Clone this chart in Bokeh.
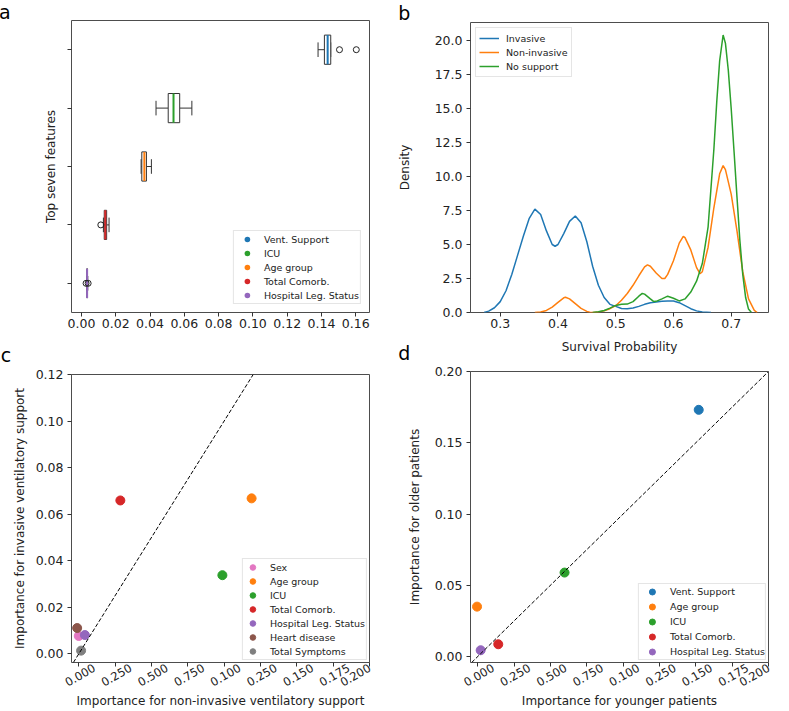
import numpy as np
from math import pi
from bokeh.plotting import figure
from bokeh.layouts import row, column
from bokeh.models import (FactorRange, Range1d, FixedTicker, PrintfTickFormatter, LinearAxis,
                          Legend, LegendItem, Slope, Label, ColumnDataSource)
from bokeh.transform import dodge
from bokeh.embed import file_html
from bokeh.resources import INLINE

FONT = "DejaVu Sans"
BLUE, ORANGE, GREEN, RED = "#1f77b4", "#ff7f0e", "#2ca02c", "#d62728"
PURPLE, BROWN, PINK, GRAY = "#9467bd", "#8c564b", "#e377c2", "#7f7f7f"

# ---------------- Panel a data (box plots) ----------------
a_features = ["Hospital Leg. Status", "Total Comorb.", "Age group", "ICU", "Vent. Support"]
a_colors = [PURPLE, RED, ORANGE, GREEN, BLUE]
a_q1 = [0.0031, 0.0133, 0.0352, 0.0506, 0.1417]
a_median = [0.0033, 0.0139, 0.0367, 0.0537, 0.1436]
a_q3 = [0.0035, 0.0147, 0.0379, 0.0573, 0.1454]
a_whisker_lo = [0.0030, 0.0128, 0.0348, 0.0435, 0.1380]
a_whisker_hi = [0.0037, 0.0161, 0.0408, 0.0644, 0.1454]
a_outlier_feature = ["Hospital Leg. Status", "Hospital Leg. Status", "Total Comorb.",
                     "Vent. Support", "Vent. Support"]
a_outlier_value = [0.0027, 0.0039, 0.0113, 0.1505, 0.1603]
a_legend_names = ["Vent. Support", "ICU", "Age group", "Total Comorb.", "Hospital Leg. Status"]
a_xticks = [0.0, 0.02, 0.04, 0.06, 0.08, 0.10, 0.12, 0.14, 0.16]

# ---------------- Panel b data (density curves) ----------------
b_invasive_x = [0.272, 0.28, 0.29, 0.30, 0.31, 0.32, 0.33, 0.34, 0.35, 0.36, 0.37, 0.38, 0.39,
                0.395, 0.40, 0.41, 0.42, 0.43, 0.44, 0.45, 0.46, 0.47, 0.48, 0.49, 0.50, 0.51,
                0.52, 0.53, 0.54, 0.55, 0.56, 0.57, 0.58, 0.59, 0.60, 0.61, 0.62, 0.63, 0.64,
                0.65, 0.665]
b_invasive_y = [0.0, 0.1, 0.35, 0.8, 1.6, 2.8, 4.2, 5.6, 6.9, 7.6, 7.2, 6.0, 5.0,
                4.87, 5.0, 5.8, 6.7, 7.1, 6.6, 5.2, 3.4, 2.0, 1.1, 0.6, 0.45, 0.3,
                0.27, 0.33, 0.45, 0.6, 0.72, 0.78, 0.82, 0.84, 0.84, 0.72, 0.5, 0.28, 0.12,
                0.04, 0.0]
b_noninv_x = [0.36, 0.37, 0.38, 0.39, 0.40, 0.41, 0.413, 0.42, 0.43, 0.44, 0.45, 0.455, 0.46,
              0.47, 0.48, 0.49, 0.50, 0.51, 0.52, 0.53, 0.54, 0.55, 0.555, 0.56, 0.57, 0.58,
              0.585, 0.59, 0.60, 0.61, 0.617, 0.62, 0.63, 0.64, 0.646, 0.65, 0.66, 0.67, 0.68,
              0.686, 0.69, 0.70, 0.71, 0.72, 0.73, 0.74, 0.745]
b_noninv_y = [0.0, 0.03, 0.15, 0.4, 0.75, 1.08, 1.12, 1.0, 0.65, 0.3, 0.08, 0.02, 0.0,
              0.03, 0.12, 0.28, 0.5, 0.9, 1.4, 2.0, 2.7, 3.35, 3.5, 3.4, 2.9, 2.5,
              2.5, 2.8, 3.8, 5.1, 5.6, 5.5, 4.6, 3.3, 2.85, 3.0, 4.8, 7.7, 10.2,
              10.8, 10.5, 8.7, 6.0, 3.0, 1.0, 0.15, 0.0]
b_nosupp_x = [0.46, 0.47, 0.48, 0.49, 0.50, 0.51, 0.52, 0.53, 0.54, 0.546, 0.55, 0.56, 0.566,
              0.57, 0.58, 0.59, 0.60, 0.61, 0.62, 0.63, 0.64, 0.65, 0.66, 0.67, 0.675, 0.68,
              0.686, 0.69, 0.695, 0.70, 0.705, 0.71, 0.715, 0.72, 0.725, 0.73, 0.735]
b_nosupp_y = [0.0, 0.05, 0.15, 0.32, 0.52, 0.6, 0.62, 0.8, 1.2, 1.4, 1.35, 1.0, 0.8,
              0.82, 1.0, 1.2, 1.05, 0.85, 1.0, 1.5, 2.3, 3.6, 6.3, 12.0, 15.5, 18.5,
              20.4, 19.8, 17.8, 15.0, 11.8, 8.5, 5.3, 2.8, 1.1, 0.25, 0.0]
b_xticks = [0.3, 0.4, 0.5, 0.6, 0.7]
b_yticks = [0.0, 2.5, 5.0, 7.5, 10.0, 12.5, 15.0, 17.5, 20.0]

# ---------------- Panel c data ----------------
c_names = ["Sex", "Age group", "ICU", "Total Comorb.", "Hospital Leg. Status",
           "Heart disease", "Total Symptoms"]
c_colors = [PINK, ORANGE, GREEN, RED, PURPLE, BROWN, GRAY]
c_noninvasive = [0.0000, 0.1189, 0.0988, 0.0286, 0.0042, -0.0011, 0.0016]
c_invasive = [0.0077, 0.0668, 0.0338, 0.0659, 0.0081, 0.0111, 0.0014]
c_xticks = [0.0, 0.025, 0.05, 0.075, 0.1, 0.125, 0.15, 0.175, 0.2]
c_xtick_labels = ["0.000", "0.250", "0.500", "0.750", "0.100", "0.250", "0.150", "0.175", "0.200"]
c_yticks = [0.0, 0.02, 0.04, 0.06, 0.08, 0.10, 0.12]

# ---------------- Panel d data ----------------
d_names = ["Vent. Support", "Age group", "ICU", "Total Comorb.", "Hospital Leg. Status"]
d_colors = [BLUE, ORANGE, GREEN, RED, PURPLE]
d_younger = [0.1520, -0.0005, 0.0597, 0.0141, 0.0020]
d_older = [0.1731, 0.0350, 0.0589, 0.0086, 0.0044]
d_xticks = [0.0, 0.025, 0.05, 0.075, 0.1, 0.125, 0.15, 0.175, 0.2]
d_xtick_labels = ["0.000", "0.250", "0.500", "0.750", "0.100", "0.250", "0.150", "0.175", "0.200"]
d_yticks = [0.0, 0.05, 0.10, 0.15, 0.20]


def style_axis(ax, size="12.5px"):
    ax.axis_line_color = None
    ax.major_tick_line_color = "#333333"
    ax.major_tick_in = 0
    ax.major_tick_out = 4
    ax.minor_tick_line_color = None
    ax.major_label_text_font = FONT
    ax.major_label_text_font_size = size
    ax.major_label_text_color = "#222222"
    ax.axis_label_text_font = FONT
    ax.axis_label_text_font_size = "12px"
    ax.axis_label_text_font_style = "normal"
    ax.axis_label_text_color = "#222222"


def make_fig(width, height, left, right, top, bottom, x_range, y_range):
    p = figure(width=width, height=height, x_range=x_range, y_range=y_range,
               output_backend="svg", toolbar_location=None,
               min_border_left=left, min_border_right=right,
               min_border_top=top, min_border_bottom=bottom)
    p.background_fill_color = "white"
    p.border_fill_color = "white"
    p.outline_line_color = "#4d4d4d"
    p.outline_line_width = 1
    p.xgrid.visible = False
    p.ygrid.visible = False
    for ax in p.axis:
        style_axis(ax)
    # frame geometry used to place the panel letters outside the frame
    p.tags = [dict(left=left, top=top, fw=width - left - right, fh=height - top - bottom)]
    return p


def rotated_xlabels(p, ticks, labels, shift_px, axis_label, label_standoff):
    """Tick marks on the first axis; slanted labels, moved right to sit centred on
    their ticks, on a second tick-less axis (the last one stays inside the frame)."""
    g = p.tags[0]
    dx = shift_px * (p.x_range.end - p.x_range.start) / g["fw"]
    ax1 = p.below[0]
    ax1.ticker = FixedTicker(ticks=ticks)
    ax1.major_label_text_font_size = "0px"
    ax1.major_label_standoff = 0
    pos = [t + dx for t in ticks[:-1]] + [ticks[-1]]
    ax2 = LinearAxis(ticker=FixedTicker(ticks=pos))
    style_axis(ax2, "11.5px")
    ax2.major_label_overrides = {q: l for q, l in zip(pos, labels)}
    ax2.major_tick_line_color = None
    ax2.major_tick_out = 0
    ax2.major_label_orientation = pi / 6
    ax2.major_label_standoff = 0
    ax2.axis_label = axis_label
    ax2.axis_label_standoff = label_standoff
    p.add_layout(ax2, "below")


def style_legend(lg, glyph_w, glyph_h, padding, standoff):
    lg.glyph_width = glyph_w
    lg.glyph_height = glyph_h
    lg.label_height = glyph_h
    lg.spacing = 0
    lg.padding = padding
    lg.label_standoff = standoff
    lg.label_text_font = FONT
    lg.label_text_font_size = "9.5px"
    lg.label_text_color = "#222222"
    lg.border_line_color = "#cccccc"
    lg.border_line_width = 1
    lg.background_fill_alpha = 0.85


def letter(p, text, cx, cy, place, numeric_y=True):
    """Panel letter near canvas pixel (cx, cy) of figure p, drawn in a side panel."""
    cx, cy = cx - 4, cy - 7
    g = p.tags[0]
    x0, x1 = p.x_range.start, p.x_range.end
    xd = x0 + (cx - g["left"]) * (x1 - x0) / g["fw"]
    if numeric_y:
        y0, y1 = p.y_range.start, p.y_range.end
        yd = y1 - (cy - g["top"]) * (y1 - y0) / g["fh"]
        lab = Label(x=xd, y=yd, x_units="data", y_units="data", text=text)
    else:
        lab = Label(x=xd, y=g["top"] + g["fh"] - cy, x_units="data", y_units="screen", text=text)
    lab.text_font = FONT
    lab.text_font_size = "19px"
    lab.text_color = "black"
    lab.text_baseline = "alphabetic"
    lab.text_align = "left"
    p.add_layout(lab, place)


# ================= Panel a =================
pa = make_fig(390, 340, 71, 19, 20, 28, Range1d(-0.0058, 0.168), FactorRange(factors=a_features))
src_a = ColumnDataSource(dict(feature=a_features, q1=a_q1, med=a_median, q3=a_q3,
                              wlo=a_whisker_lo, whi=a_whisker_hi, color=a_colors))
yr = pa.y_range
pa.segment(x0="wlo", y0="feature", x1="q1", y1="feature", source=src_a, line_color="#333333", line_width=1)
pa.segment(x0="q3", y0="feature", x1="whi", y1="feature", source=src_a, line_color="#333333", line_width=1)
pa.segment(x0="wlo", y0=dodge("feature", -0.125, range=yr), x1="wlo", y1=dodge("feature", 0.125, range=yr),
           source=src_a, line_color="#333333", line_width=1)
pa.segment(x0="whi", y0=dodge("feature", -0.125, range=yr), x1="whi", y1=dodge("feature", 0.125, range=yr),
           source=src_a, line_color="#333333", line_width=1)
pa.hbar(y="feature", left="q1", right="q3", height=0.5, source=src_a,
        fill_color="white", line_color="#333333", line_width=1)
pa.segment(x0="med", y0=dodge("feature", -0.25, range=yr), x1="med", y1=dodge("feature", 0.25, range=yr),
           source=src_a, line_color="color", line_width=2)
pa.scatter(x=a_outlier_value, y=a_outlier_feature, marker="circle", size=6,
           fill_color=None, line_color="#222222", line_width=1)
a_items = []
for name in a_legend_names:
    i = a_features.index(name)
    # zero-size marker at the feature's median: invisible in the plot, a dot in the legend
    r = pa.scatter(x=[a_median[i]], y=[name], marker="circle", size=0,
                   fill_color=a_colors[i], line_color=None)
    a_items.append(LegendItem(label=name, renderers=[r]))
lg_a = Legend(items=a_items, location="bottom_right", margin=8)
style_legend(lg_a, 24, 14, 1, 5)
pa.add_layout(lg_a)
pa.xaxis.ticker = FixedTicker(ticks=a_xticks)
pa.xaxis.formatter = PrintfTickFormatter(format="%.2f")
pa.xaxis.major_label_standoff = 2
pa.yaxis.major_label_text_font_size = "0px"
pa.yaxis.major_label_standoff = 5
pa.yaxis.axis_label = "Top seven features"
pa.yaxis.axis_label_standoff = 10
letter(pa, "a", 2, 18, "right", numeric_y=False)

# ================= Panel b =================
pb = make_fig(399, 364, 77, 21, 21, 52, Range1d(0.2485, 0.7646), Range1d(0, 21.32))
r1 = pb.line(b_invasive_x, b_invasive_y, line_color=BLUE, line_width=1.5)
r2 = pb.line(b_noninv_x, b_noninv_y, line_color=ORANGE, line_width=1.5)
r3 = pb.line(b_nosupp_x, b_nosupp_y, line_color=GREEN, line_width=1.5)
lg_b = Legend(items=[LegendItem(label="Invasive", renderers=[r1]),
                     LegendItem(label="Non-invasive", renderers=[r2]),
                     LegendItem(label="No support", renderers=[r3])],
              location="top_left", margin=5)
style_legend(lg_b, 20, 14, 3, 7)
pb.add_layout(lg_b)
pb.xaxis.ticker = FixedTicker(ticks=b_xticks)
pb.xaxis.formatter = PrintfTickFormatter(format="%.1f")
pb.yaxis.ticker = FixedTicker(ticks=b_yticks)
pb.yaxis.formatter = PrintfTickFormatter(format="%.1f")
pb.xaxis.major_label_standoff = 2
pb.yaxis.major_label_standoff = 4
pb.xaxis.axis_label = "Survival Probability"
pb.xaxis.axis_label_standoff = 9
pb.yaxis.axis_label = "Density"
pb.yaxis.axis_label_standoff = 20
letter(pb, "b", 8, 18, "above")
letter(pb, "d", 8, 360, "right")

# ================= Panel c =================
pc = make_fig(390, 370, 70, 21, 34, 47, Range1d(-0.005, 0.2), Range1d(-0.0037, 0.12))
pc.add_layout(Slope(gradient=1, y_intercept=0, line_color="black", line_width=1, line_dash="4 2"))
c_items = []
for name, col, xv, yv in zip(c_names, c_colors, c_noninvasive, c_invasive):
    r = pc.scatter(x=[xv], y=[yv], marker="circle", size=9, fill_color=col, line_color=col)
    c_items.append(LegendItem(label=name, renderers=[r]))
lg_c = Legend(items=c_items, location="bottom_right", margin=2)
style_legend(lg_c, 17, 14, 1, 9)
pc.add_layout(lg_c)
rotated_xlabels(pc, c_xticks, c_xtick_labels, 15.5,
                "Importance for non-invasive ventilatory support", 0)
pc.yaxis.ticker = FixedTicker(ticks=c_yticks)
pc.yaxis.formatter = PrintfTickFormatter(format="%.2f")
pc.yaxis.major_label_standoff = 4
pc.yaxis.axis_label = "Importance for invasive ventilatory support"
pc.yaxis.axis_label_standoff = 6
letter(pc, "c", 3, 21, "right")

# ================= Panel d =================
pd_ = make_fig(399, 346, 80, 16, 7, 46, Range1d(-0.005, 0.2), Range1d(-0.0042, 0.2))
pd_.add_layout(Slope(gradient=1, y_intercept=0, line_color="black", line_width=1, line_dash="4 2"))
d_items = []
for name, col, xv, yv in zip(d_names, d_colors, d_younger, d_older):
    r = pd_.scatter(x=[xv], y=[yv], marker="circle", size=9, fill_color=col, line_color=col)
    d_items.append(LegendItem(label=name, renderers=[r]))
lg_d = Legend(items=d_items, location="bottom_right", margin=2)
style_legend(lg_d, 26, 15, 0, 5)
pd_.add_layout(lg_d)
rotated_xlabels(pd_, d_xticks, d_xtick_labels, 15.5, "Importance for younger patients", 0)
pd_.yaxis.ticker = FixedTicker(ticks=d_yticks)
pd_.yaxis.formatter = PrintfTickFormatter(format="%.2f")
pd_.yaxis.major_label_standoff = 4
pd_.yaxis.axis_label = "Importance for older patients"
pd_.yaxis.axis_label_standoff = 10

layout = row(column(pa, pc), column(pb, pd_))
open("out.html", "w").write(file_html(layout, INLINE))
